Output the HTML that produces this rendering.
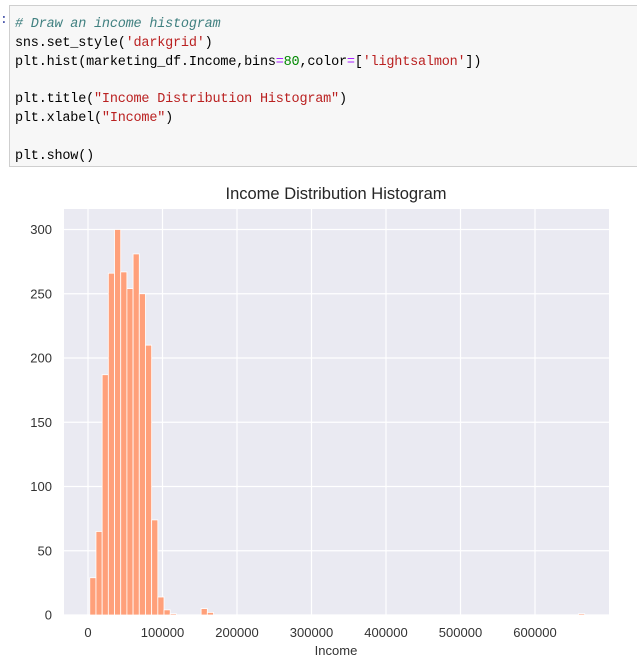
<!DOCTYPE html>
<html><head><meta charset="utf-8"><style>
body{margin:0;width:637px;height:669px;background:#fff;overflow:hidden;position:relative;font-family:"Liberation Sans",sans-serif}
#cell{position:absolute;left:9px;top:5px;width:640px;height:162px;background:#f7f7f7;border:1px solid #cfcfcf;box-sizing:border-box}
#code{position:absolute;left:5px;top:10px;margin:0;font-family:"Liberation Mono","Noto Sans CJK SC",monospace;font-size:13.5px;line-height:18.8px;color:#000;letter-spacing:-0.2px}
.c{color:#408080;font-style:italic}.s{color:#ba2121}.n{color:#080}.o{color:#a2f}
#prompt{position:absolute;left:0;top:12px;color:#303f9f;font-family:"Liberation Mono",monospace;font-size:13px}
</style></head><body>
<div id="prompt">:</div>
<div id="cell"><pre id="code"><span class="c"># Draw an income histogram</span>
sns.set_style(<span class="s">'darkgrid'</span>)
plt.hist(marketing_df.Income,bins<span class="o">=</span><span class="n">80</span>,color<span class="o">=</span>[<span class="s">'lightsalmon'</span>])

plt.title(<span class="s">"Income Distribution Histogram"</span>)
plt.xlabel(<span class="s">"Income"</span>)

plt.show()</pre></div>
<svg id="chart" width="637" height="669" style="position:absolute;left:0;top:0"></svg>
<script>
const binMin = 2400;
const binMax = 666666;
const counts = [29,65,187,266,300,267,254,281,250,210,74,14,4,1,0,0,0,0,5,2,0,0,0,0,0,0,0,0,0,0,0,0,0,0,0,0,0,0,0,0,0,0,0,0,0,0,0,0,0,0,0,0,0,0,0,0,0,0,0,0,0,0,0,0,0,0,0,0,0,0,0,0,0,0,0,0,0,0,0,1];
const xTicks = [0,100000,200000,300000,400000,500000,600000];
const yTicks = [0,50,100,150,200,250,300];
const NS='http://www.w3.org/2000/svg';
const svg=document.getElementById('chart');
const L=64,R=609,T=209,B=615;
const xs=v=>88+(v)*(535-88)/600000;
const ys=v=>615-v*(615-229.5)/300;
function mk(t,a){const e=document.createElementNS(NS,t);for(const k in a)e.setAttribute(k,a[k]);svg.appendChild(e);return e;}
const bg=mk('rect',{x:L,y:T,width:R-L,height:B-T,fill:'#eaeaf2'});


yTicks.forEach(v=>{
  const g=mk('line',{x1:L,x2:R,y1:ys(v),y2:ys(v),stroke:'#fff','stroke-width':1.2});
  
  
  const t=mk('text',{x:52,y:ys(v)+4.5,'text-anchor':'end','font-size':13,fill:'#333'});
  t.textContent=v;
  
  
});
xTicks.forEach(v=>{
  const g=mk('line',{x1:xs(v),x2:xs(v),y1:T,y2:B,stroke:'#fff','stroke-width':1.2});
  
  
  const t=mk('text',{x:xs(v),y:637,'text-anchor':'middle','font-size':13,fill:'#333'});
  t.textContent=v;
  
  
});
const bw=(binMax-binMin)/counts.length;
counts.forEach((c,i)=>{
  if(c<=0)return;
  const x0=xs(binMin+i*bw),x1=xs(binMin+(i+1)*bw);
  const r=mk('rect',{x:x0,y:ys(c),width:x1-x0,height:ys(0)-ys(c),fill:'#ffa07a',stroke:'#fff','stroke-width':0.8});
  
  
});
const ti=mk('text',{x:336,y:199,'text-anchor':'middle','font-size':16.5,fill:'#262626'});
ti.textContent='Income Distribution Histogram';


const xl=mk('text',{x:336,y:655,'text-anchor':'middle','font-size':13,fill:'#333'});
xl.textContent='Income';


</script>
</body></html>
